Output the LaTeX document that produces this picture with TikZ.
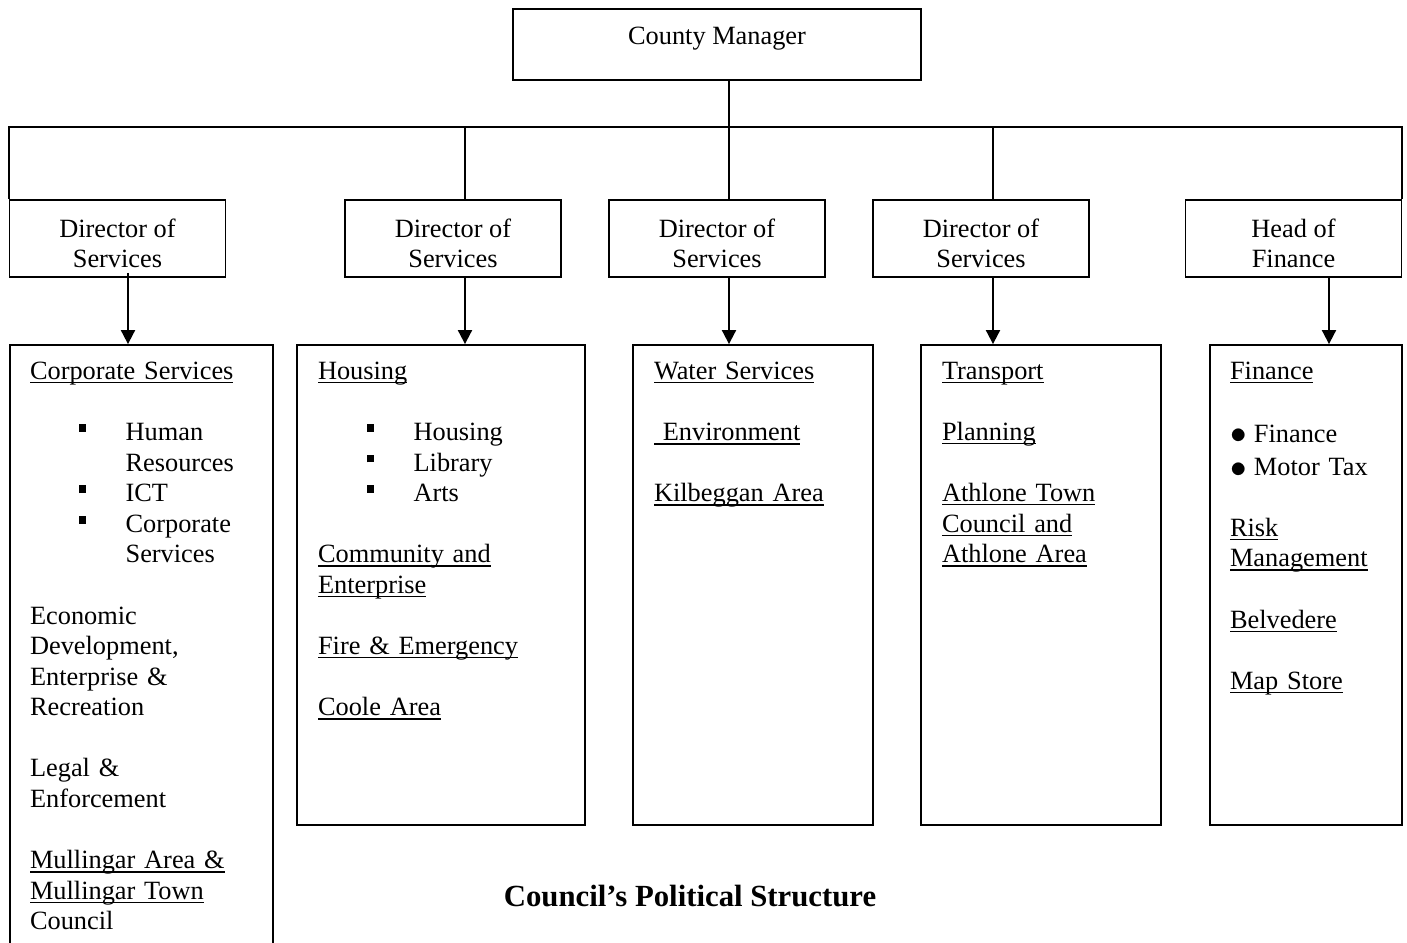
\documentclass[tikz,border=0pt]{standalone}
\usepackage{fontspec}
\setmainfont{Liberation Serif}
\usepackage{tikz}
\usetikzlibrary{arrows.meta,positioning}

\newcommand\undl[1]{\leavevmode\setbox0\hbox{#1}\rlap{\rule[-2.2pt]{\wd0}{0.8pt}}\box0}
\newcommand\sqb{\hspace*{27.8pt}\makebox[26.6pt][l]{\raisebox{5pt}{\rule{4.3pt}{4.3pt}}}}
\newcommand\sqi{\hspace*{54.4pt}}
\newcommand\rdb{\makebox[13.6pt][l]{\raisebox{-1pt}{\scalebox{1.3}{$\bullet$}}}}

\begin{document}
\begin{tikzpicture}[x=0.02cm,y=-0.02cm,line width=1.1pt,>={Triangle[length=8pt,width=8pt]},
  font=\fontsize{15pt}{17.4pt}\selectfont,
  box/.style={draw,inner sep=0pt},
  dirbox/.style={box,minimum width=4.32cm,minimum height=1.54cm,align=center,text height=34.4pt,text depth=1pt},
  unitbox/.style={box,minimum height=9.6cm},
  unittext/.style={inner sep=0pt,align=left,text width=#1}]
\useasboundingbox (0,0) rectangle (1407,943);
\node[box,minimum width=8.16cm,minimum height=1.42cm,text height=0.7cm,text depth=0.72cm] (cm) at (717,44.5) {County Manager};
\node[dirbox] (d1) at (117.5,238.5) {Director of\\Services};
\node[dirbox] (d2) at (453,238.5) {Director of\\Services};
\node[dirbox] (d3) at (717,238.5) {Director of\\Services};
\node[dirbox] (d4) at (981,238.5) {Director of\\Services};
\node[dirbox] (d5) at (1293.5,238.5) {Head of\\Finance};
\node[box,minimum width=5.26cm,minimum height=12.3cm] (b1) at (141.5,652.5) {};
\node[unitbox,minimum width=5.76cm] (b2) at (441,585) {};
\node[unitbox,minimum width=4.8cm] (b3) at (753,585) {};
\node[unitbox,minimum width=4.8cm] (b4) at (1041,585) {};
\node[unitbox,minimum width=3.84cm] (b5) at (1306,585) {};
\node[unittext=4.9cm,below right=0.34cm and 0.4cm of b1.north west] (t1) {\undl{Corporate Services}\\[17.4pt]
  \sqb Human\\ \sqi Resources\\ \sqb ICT\\ \sqb Corporate\\ \sqi Services\\[17.4pt]
  Economic\\ Development,\\ Enterprise \&\\ Recreation\\[17.4pt]
  Legal \&\\ Enforcement\\[17.4pt]
  \undl{Mullingar Area \&}\\ \undl{Mullingar Town}\\ Council};
\node[unittext=5.3cm,below right=0.34cm and 0.42cm of b2.north west] (t2) {\undl{Housing}\\[17.4pt]
  \sqb Housing\\ \sqb Library\\ \sqb Arts\\[17.4pt]
  \undl{Community and}\\ \undl{Enterprise}\\[17.4pt]
  \undl{Fire \& Emergency}\\[17.4pt]
  \undl{Coole Area}};
\node[unittext=4.4cm,below right=0.34cm and 0.42cm of b3.north west] (t3) {\undl{Water Services}\\[17.4pt]
  \undl{\ Environment}\\[17.4pt]
  \undl{Kilbeggan Area}};
\node[unittext=4.4cm,below right=0.34cm and 0.42cm of b4.north west] (t4) {\undl{Transport}\\[17.4pt]
  \undl{Planning}\\[17.4pt]
  \undl{Athlone Town}\\ \undl{Council and}\\ \undl{Athlone Area}};
\node[unittext=3.5cm,below right=0.34cm and 0.4cm of b5.north west] (t5) {\undl{Finance}\\[18.3pt]
  \rdb Finance\\[1.4pt] \rdb Motor Tax\\[17.4pt]
  \undl{Risk}\\ \undl{Management}\\[17.4pt]
  \undl{Belvedere}\\[17.4pt]
  \undl{Map Store}};
\node[font=\fontsize{17.5pt}{20pt}\selectfont\bfseries] (title) at (690,896) {Council’s Political Structure};
\draw (d1.north west) |- ([yshift=1.44cm]d5.north east) -- (d5.north east);
\draw ([xshift=0.24cm]cm.south) -- ([xshift=0.24cm]d3.north);
\draw ([xshift=0.24cm]d2.north) -- ++(0,1.44cm);
\draw ([xshift=0.24cm]d4.north) -- ++(0,1.44cm);
\foreach \i/\s/\u in {1/0.21/0.1,2/0.24/0,3/0.24/0,4/0.24/0,5/0.71/0}
  \draw[->] ([xshift=\s cm,yshift=\u cm]d\i.south) -- ([xshift=\s cm]d\i.south |- b\i.north);
\end{tikzpicture}
\end{document}
